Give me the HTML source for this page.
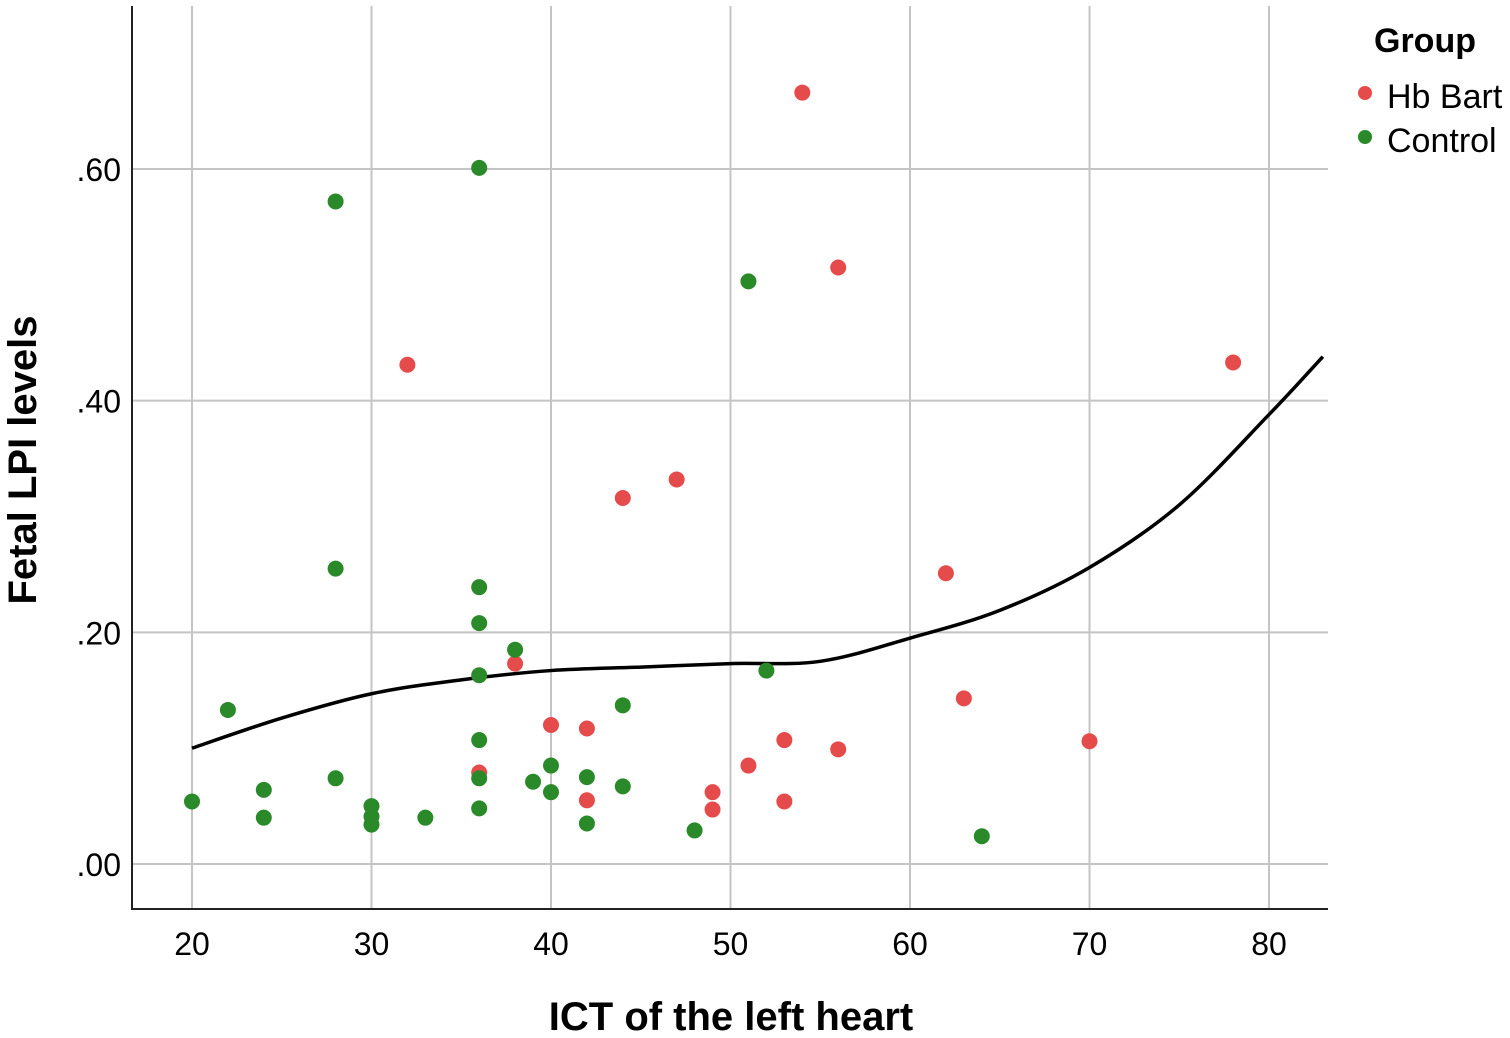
<!DOCTYPE html>
<html><head><meta charset="utf-8"><style>
html,body{margin:0;padding:0;background:#fff;}
svg{display:block;font-family:"Liberation Sans",sans-serif;}
</style></head><body>
<svg id="chart" width="1510" height="1038">
<g id="grid"></g>
<g id="xticks"></g>
<g id="yticks"></g>
<line x1="132" y1="6" x2="132" y2="909" stroke="#222" stroke-width="2"/>
<line x1="131" y1="909" x2="1328" y2="909" stroke="#222" stroke-width="2"/>
<path id="fit" fill="none" stroke="#000" stroke-width="3.5"/>
<g id="pts"></g>
<text x="731" y="1030" text-anchor="middle" font-size="40" font-weight="bold">ICT of the left heart</text>
<text transform="translate(36,460) rotate(-90)" text-anchor="middle" font-size="40" font-weight="bold">Fetal LPI levels</text>
<g>
<text x="1374" y="52" font-size="34" font-weight="bold">Group</text>
<circle cx="1365" cy="93" r="7" fill="#e64b4b"/>
<text x="1387" y="108" font-size="34">Hb Bart</text>
<circle cx="1365" cy="137" r="7" fill="#2a8a2a"/>
<text x="1387" y="152" font-size="34">Control</text>
</g>
</svg>
<script>
const xTicks=[20,30,40,50,60,70,80];
const yTicks=[0,0.2,0.4,0.6];
const yTickLabels=[".00",".20",".40",".60"];
const redX=[54,56,32,78,47,44,62,38,63,40,42,53,56,70,36,51,49,49,42,53];
const redY=[.666,.515,.431,.433,.332,.316,.251,.173,.143,.120,.117,.107,.099,.106,.079,.085,.062,.047,.055,.054];
const greenX=[36,28,51,28,36,36,38,52,36,22,44,36,40,36,28,39,42,44,24,40,20,30,36,30,24,33,30,42,48,64];
const greenY=[.601,.572,.503,.255,.239,.208,.185,.167,.163,.133,.137,.107,.085,.074,.074,.071,.075,.067,.064,.062,.054,.050,.048,.041,.040,.040,.034,.035,.029,.024];
const fitX=[20,25,30,35,40,45,50,55,60,65,70,75,80,83];
const fitY=[.100,.126,.147,.159,.167,.170,.173,.175,.195,.219,.256,.310,.388,.438];
const NS='http://www.w3.org/2000/svg';
const sx=v=>192+(v-20)*17.95;
const sy=v=>864-v*1158.3;
const grid=document.getElementById('grid');
xTicks.forEach(t=>{
 const l=document.createElementNS(NS,'line');
 l.setAttribute('x1',sx(t));l.setAttribute('x2',sx(t));l.setAttribute('y1',6);l.setAttribute('y2',909);
 l.setAttribute('stroke','#c4c4c4');l.setAttribute('stroke-width','2');
 
 
 grid.appendChild(l);
 const tx=document.createElementNS(NS,'text');
 tx.setAttribute('x',sx(t));tx.setAttribute('y',955);tx.setAttribute('text-anchor','middle');tx.setAttribute('font-size','32');
 tx.textContent=t;
 
 
 document.getElementById('xticks').appendChild(tx);
});
yTicks.forEach((t,i)=>{
 const l=document.createElementNS(NS,'line');
 l.setAttribute('x1',132);l.setAttribute('x2',1328);l.setAttribute('y1',sy(t));l.setAttribute('y2',sy(t));
 l.setAttribute('stroke','#c4c4c4');l.setAttribute('stroke-width','2');
 
 
 grid.appendChild(l);
 const tx=document.createElementNS(NS,'text');
 tx.setAttribute('x',121);tx.setAttribute('y',sy(t)+12);tx.setAttribute('text-anchor','end');tx.setAttribute('font-size','32');
 tx.textContent=yTickLabels[i];
 
 
 document.getElementById('yticks').appendChild(tx);
});
const P=fitX.map((x,i)=>[sx(x),sy(fitY[i])]);
let d='M'+P[0][0]+','+P[0][1];
for(let i=0;i<P.length-1;i++){
 const p0=P[Math.max(0,i-1)],p1=P[i],p2=P[i+1],p3=P[Math.min(P.length-1,i+2)];
 d+=' C'+(p1[0]+(p2[0]-p0[0])/6)+','+(p1[1]+(p2[1]-p0[1])/6)+' '+(p2[0]-(p3[0]-p1[0])/6)+','+(p2[1]-(p3[1]-p1[1])/6)+' '+p2[0]+','+p2[1];
}
document.getElementById('fit').setAttribute('d',d);
const pts=document.getElementById('pts');
function dots(xs,ys,col,name){
 xs.forEach((x,i)=>{
  const c=document.createElementNS(NS,'circle');
  c.setAttribute('cx',sx(x));c.setAttribute('cy',sy(ys[i]));c.setAttribute('r',8);c.setAttribute('fill',col);
  
  
  pts.appendChild(c);
 });
}
dots(redX,redY,'#e64b4b','point-hb-bart');
dots(greenX,greenY,'#2a8a2a','point-control');
</script>
</body></html>
